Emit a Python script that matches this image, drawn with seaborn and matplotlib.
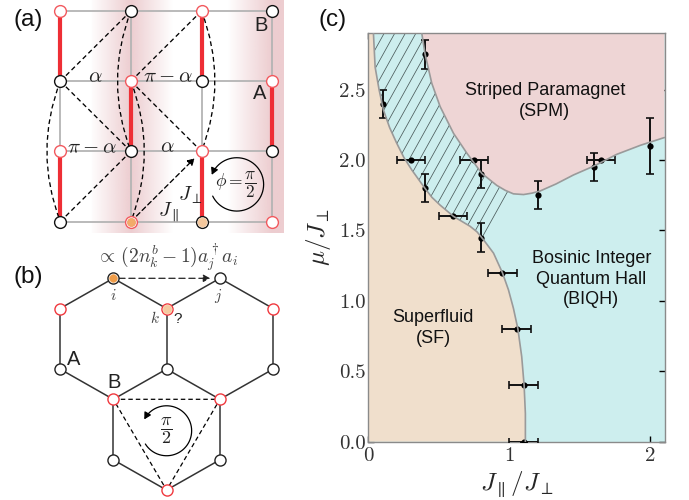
import numpy as np
import pandas as pd
import seaborn as sns
import matplotlib
matplotlib.use("Agg")
import matplotlib.pyplot as plt
from matplotlib.patches import FancyArrowPatch, PathPatch, Polygon
from matplotlib.path import Path

# phase diagram
sf_x = [0.035, 0.047, 0.075, 0.106, 0.15, 0.2, 0.25, 0.307, 0.40, 0.45, 0.508, 0.603, 0.72, 0.77, 0.816, 0.887, 0.95, 0.993, 1.028, 1.06, 1.087, 1.104, 1.113, 1.113]
sf_y = [2.9, 2.66, 2.5, 2.355, 2.23, 2.12, 2.02, 1.93, 1.8, 1.735, 1.68, 1.6, 1.53, 1.49, 1.434, 1.339, 1.2, 1.078, 0.948, 0.8, 0.604, 0.4, 0.2, 0.0]
spm_x = [0.378, 0.402, 0.449, 0.508, 0.603, 0.697, 0.804, 0.91, 0.97, 1.028, 1.1, 1.16, 1.217, 1.33, 1.454, 1.605, 1.76, 1.93, 2.1]
spm_y = [2.9, 2.75, 2.545, 2.38, 2.19, 2.05, 1.905, 1.82, 1.785, 1.76, 1.755, 1.765, 1.78, 1.83, 1.894, 1.96, 2.04, 2.105, 2.16]
hatch_edge_x = [0.84, 1.04]
hatch_edge_y = [1.41, 1.76]

pt_x = [0.1, 0.4, 0.3, 0.75, 0.8, 0.4, 0.6, 0.8, 0.95, 1.05, 1.1, 1.1, 1.2, 1.6, 1.65, 2.0]
pt_y = [2.4, 2.75, 2.0, 2.0, 1.9, 1.8, 1.6, 1.45, 1.2, 0.8, 0.4, 0.0, 1.75, 1.95, 2.0, 2.1]
pt_xerr = [0, 0, 0.1, 0.1, 0, 0, 0.1, 0, 0.1, 0.1, 0.1, 0.1, 0, 0, 0.1, 0]
pt_yerr = [0.1, 0.1, 0, 0, 0.1, 0.1, 0, 0.1, 0, 0, 0, 0, 0.1, 0.1, 0, 0.2]

x_ticks = [0, 1, 2]
y_ticks = [0.0, 0.5, 1.0, 1.5, 2.0, 2.5]

# square lattice of panel (a), (column, row)
a_red = [(0, 0), (2, 0), (1, 1), (3, 1), (0, 2), (2, 2), (1, 3), (3, 3)]
a_black = [(1, 0), (3, 0), (0, 1), (2, 1), (1, 2), (3, 2), (0, 3), (2, 3)]
a_bonds = [(0, 0, 1), (2, 0, 1), (1, 1, 2), (3, 1, 2), (0, 2, 3), (2, 2, 3)]
a_dashed = [((0, 1), (1, 0)), ((0, 1), (1, 2)), ((1, 1), (2, 0)), ((1, 1), (2, 2)), ((1, 2), (0, 3))]
a_curved = [((0, 1), (0, 3), -0.38), ((1, 0), (1, 2), -0.38), ((1, 1), (1, 3), 0.38), ((2, 0), (2, 2), 0.38)]

# honeycomb of panel (b), (column, height in bonds)
b_red = [(0, 0.5), (2, 0.5), (4, 0.5), (1, 2), (3, 2), (2, 3.5)]
b_black = [(1, 0), (3, 0), (0, 1.5), (2, 1.5), (4, 1.5), (1, 3), (3, 3)]
b_edges = [((0, 0.5), (1, 0)), ((1, 0), (2, 0.5)), ((2, 0.5), (3, 0)), ((3, 0), (4, 0.5)),
           ((0, 0.5), (0, 1.5)), ((2, 0.5), (2, 1.5)), ((4, 0.5), (4, 1.5)),
           ((0, 1.5), (1, 2)), ((1, 2), (2, 1.5)), ((2, 1.5), (3, 2)), ((3, 2), (4, 1.5)),
           ((1, 2), (1, 3)), ((3, 2), (3, 3)), ((1, 3), (2, 3.5)), ((3, 3), (2, 3.5))]
b_triangle = [(1, 2), (3, 2), (2, 3.5), (1, 2)]

W, H = 689, 500
RED = "#ee2e35"
GREY = "#b4b4b4"

sns.set_theme(style="ticks")
plt.rcParams["font.family"] = ["Liberation Sans", "DejaVu Sans"]
plt.rcParams["mathtext.fontset"] = "cm"
plt.rcParams["axes.unicode_minus"] = False

fig = plt.figure(figsize=(W / 100, H / 100), dpi=100)


def pixel_axes(x0, x1, y0, y1, ox, sx, oy, sy):
    # axes spanning a pixel box, with limits so that one lattice unit is sx by sy pixels
    ax = fig.add_axes([x0 / W, 1 - y1 / H, (x1 - x0) / W, (y1 - y0) / H])
    ax.set_xlim((x0 - ox) / sx, (x1 - ox) / sx)
    ax.set_ylim((y1 - oy) / sy, (y0 - oy) / sy)
    ax.axis("off")
    ax.patch.set_alpha(0)
    return ax


def nodes(ax, pts, edge, size=72, lw=1.0, face="white", z=5):
    df = pd.DataFrame(pts, columns=["x", "y"])
    sns.scatterplot(data=df, x="x", y="y", ax=ax, s=size, color=face, edgecolor=edge,
                    linewidth=lw, zorder=z, clip_on=False, legend=False)
    ax.set_xlabel("")
    ax.set_ylabel("")


def turn_arrow(ax, cx, cy, rx, ry, start, stop):
    t = np.radians(np.linspace(start, stop, 60))
    verts = np.column_stack([cx + rx * np.cos(t), cy - ry * np.sin(t)])
    ax.add_patch(FancyArrowPatch(path=Path(verts), arrowstyle="-|>,head_length=4,head_width=2.2",
                                 color="black", lw=0.9, zorder=6, shrinkA=0, shrinkB=0))


# ---- panel (a)
ax_a = pixel_axes(40, 284, 0, 233, 60.3, 70.6, 11.0, 70.2)
px = np.arange(40, 285)
fade = np.interp(px, [40, 91, 92, 131, 173, 228, 272, 284], [0, 0, 0.06, 1, 0, 0, 1, 1])
band = np.ones((1, px.size, 4))
band[..., :3] = matplotlib.colors.to_rgb("#edcdd0")
band[..., 3] = fade
lims = ax_a.get_xlim(), ax_a.get_ylim()
ax_a.imshow(band, extent=[lims[0][0], lims[0][1], lims[1][0], lims[1][1]], aspect="auto", zorder=0)
ax_a.set_xlim(lims[0])
ax_a.set_ylim(lims[1])

for i in range(4):
    ax_a.plot([i, i], [0, 3], color=GREY, lw=1.3, zorder=1)
    ax_a.plot([0, 3], [i, i], color=GREY, lw=1.3, zorder=1)
for col, r0, r1 in a_bonds:
    ax_a.plot([col, col], [r0, r1], color=RED, lw=3.0, solid_capstyle="butt", zorder=2)
for p, q in a_dashed:
    ax_a.plot([p[0], q[0]], [p[1], q[1]], color="black", lw=0.95, dashes=(3.6, 2.4), zorder=3)
for p, q, off in a_curved:
    ctrl = ((p[0] + q[0]) / 2 + off, (p[1] + q[1]) / 2)
    ax_a.add_patch(PathPatch(Path([p, ctrl, q], [Path.MOVETO, Path.CURVE3, Path.CURVE3]), fill=False,
                             edgecolor="black", lw=0.95, linestyle=(0, (3.6, 2.4)), zorder=3))
ax_a.add_patch(FancyArrowPatch((1, 3), (2, 2), arrowstyle="-|>,head_length=4,head_width=2.2", color="black",
                               lw=0.95, linestyle=(0, (3.6, 2.4)), shrinkA=0, shrinkB=7, zorder=4))
nodes(ax_a, a_red, "#f2595e")
nodes(ax_a, a_black, "#111111")
nodes(ax_a, [(1, 3)], "#ee9a60", size=34, lw=0.5, face="#f2ab6a", z=6)
nodes(ax_a, [(2, 3)], "#f4cda8", size=44, lw=0.5, face="#f4c79c", z=6)
turn_arrow(ax_a, 2.5, 2.47, 0.38, 0.38, 206, 519)
a_kw = dict(ha="center", va="center", color="#222222", fontsize=15)
ax_a.text(0.49, 0.94, r"$\alpha$", **a_kw)
ax_a.text(1.53, 0.94, r"$\pi-\alpha$", **a_kw)
ax_a.text(0.45, 1.95, r"$\pi-\alpha$", **a_kw)
ax_a.text(1.51, 1.94, r"$\alpha$", **a_kw)
ax_a.text(1.84, 2.62, r"$J_\perp$", ha="center", va="center", color="#222222", fontsize=14.5)
ax_a.text(1.53, 2.87, r"$J_\parallel$", ha="center", va="center", color="#222222", fontsize=14.5)
ax_a.text(2.49, 2.48, r"$\phi=\dfrac{\pi}{2}$", ha="center", va="center", color="#222222", fontsize=12.5, zorder=7)
ax_a.text(2.85, 0.2, "B", ha="center", va="center", color="#222222", fontsize=14.5)
ax_a.text(2.83, 1.18, "A", ha="center", va="center", color="#222222", fontsize=14.5)

# ---- panel (b)
ax_b = pixel_axes(40, 300, 240, 500, 60.0, 53.3, 278.3, 60.5)
for p, q in b_edges:
    ax_b.plot([p[0], q[0]], [p[1], q[1]], color="#333333", lw=1.1, zorder=1)
tri = np.array(b_triangle)
ax_b.plot(tri[:, 0], tri[:, 1], color="black", lw=0.9, dashes=(3.6, 2.4), zorder=2)
ax_b.add_patch(FancyArrowPatch((1, 0), (3, 0), arrowstyle="-|>,head_length=4,head_width=2.2", color="#222222",
                               lw=0.9, linestyle=(0, (5, 3)), shrinkA=4, shrinkB=7, zorder=3))
nodes(ax_b, b_red, "#f0383e", size=64)
nodes(ax_b, b_black, "#222222", size=64)
nodes(ax_b, [(1, 0)], "#f0a04e", size=30, lw=0.5, face="#ef9c48", z=6)
nodes(ax_b, [(2, 0.5)], "#f5cfa8", size=40, lw=0.5, face="#f4c9a0", z=6)
turn_arrow(ax_b, 2.0, 2.52, 0.47, 0.413, 212, 513)
ax_b.text(2.0, -0.34, r"$\propto\,(2n_k^b-1)a_j^\dagger a_i$", ha="center", va="center", color="#444444", fontsize=14)
ax_b.text(1.0, 0.28, r"$i$", ha="center", va="center", color="#444444", fontsize=11)
ax_b.text(2.97, 0.3, r"$j$", ha="center", va="center", color="#444444", fontsize=11)
ax_b.text(1.78, 0.66, r"$k$", ha="center", va="center", color="#444444", fontsize=11)
ax_b.text(2.21, 0.67, "?", ha="center", va="center", color="#222222", fontsize=11)
ax_b.text(0.25, 1.34, "A", ha="center", va="center", color="#222222", fontsize=14.5)
ax_b.text(1.01, 1.72, "B", ha="center", va="center", color="#222222", fontsize=14.5)
ax_b.text(2.0, 2.52, r"$\dfrac{\pi}{2}$", ha="center", va="center", color="#222222", fontsize=13, zorder=7)

# ---- panel (c)
ax = fig.add_axes([368.5 / W, 1 - 441.7 / H, 296 / W, 408.4 / H])
ax.set_facecolor("#cdeeee")
ax.set_xlim(0, 2.1)
ax.set_ylim(0, 2.9)

ax.fill(list(sf_x) + [0, 0], list(sf_y) + [0, 2.9], color="#f0dfcc", lw=0, zorder=1)
ax.fill(list(spm_x) + [2.1], list(spm_y) + [2.9], color="#eed5d5", lw=0, zorder=1)

# hatched wedge between the two boundaries
sf_a, sf_b = np.array(sf_x), np.array(sf_y)
spm_a, spm_b = np.array(spm_x), np.array(spm_y)
keep_sf = sf_b > hatch_edge_y[0]
keep_spm = spm_a <= hatch_edge_x[1]
wedge = np.vstack([
    np.column_stack([sf_a[keep_sf], sf_b[keep_sf]]),
    np.column_stack([hatch_edge_x, hatch_edge_y]),
    np.column_stack([spm_a[keep_spm], spm_b[keep_spm]])[::-1],
])
clip = Polygon(wedge, closed=True, transform=ax.transData, fc="none", ec="none")
ax.add_patch(clip)
for start in np.arange(-1.5, 2.2, 0.075):
    ln, = ax.plot([start, start + 3.0 / 1.8], [0, 3.0], color="#4a5a5a", lw=0.55, zorder=2)
    ln.set_clip_path(clip)

ax.errorbar(pt_x, pt_y, xerr=pt_xerr, yerr=pt_yerr, fmt="none", ecolor="#111111", elinewidth=1.4,
            capsize=2.6, capthick=1.2, zorder=3)
points = pd.DataFrame({"x": pt_x, "y": pt_y})
sns.scatterplot(data=points, x="x", y="y", ax=ax, color="black", s=20, linewidth=0, zorder=4, legend=False)

sf_line = pd.DataFrame({"x": sf_x, "y": sf_y})
spm_line = pd.DataFrame({"x": spm_x, "y": spm_y})
sns.lineplot(data=sf_line, x="x", y="y", ax=ax, sort=False, estimator=None, color="#9a9a9a", lw=1.2, zorder=5)
sns.lineplot(data=spm_line, x="x", y="y", ax=ax, sort=False, estimator=None, color="#9a9a9a", lw=1.2, zorder=5)

ax.set_xticks(x_ticks)
ax.set_yticks(y_ticks)
ax.set_xticklabels([str(v) for v in x_ticks], fontfamily="cmr10", fontsize=15, color="#333333")
ax.set_yticklabels([f"{v:.1f}" for v in y_ticks], fontfamily="cmr10", fontsize=15, color="#333333")
ax.tick_params(direction="in", top=True, right=True, length=4, width=1.0, color="black", pad=4)
ax.tick_params(axis="y", pad=2)
for sp in ax.spines.values():
    sp.set_color("#8a8a8a")
    sp.set_linewidth(1.0)
ax.set_xlabel(r"$J_\parallel/J_\perp$", fontsize=18, labelpad=3)
ax.set_ylabel(r"$\mu/J_\perp$", fontsize=18, labelpad=4)

lab = dict(ha="center", va="center", color="#111111", fontsize=13, linespacing=1.3)
ax.text(1.25, 2.42, "Striped Paramagnet\n(SPM)", **lab)
ax.text(1.58, 1.155, "Bosinic Integer\nQuantum Hall\n(BIQH)", **lab)
ax.text(0.46, 0.81, "Superfluid\n(SF)", **lab)

fig.text(28 / W, 1 - 20 / H, "(a)", ha="center", va="center", fontsize=17.5, color="#111111")
fig.text(28 / W, 1 - 277 / H, "(b)", ha="center", va="center", fontsize=17.5, color="#111111")
fig.text(333 / W, 1 - 20 / H, "(c)", ha="center", va="center", fontsize=17.5, color="#111111")

fig.savefig("out.png", dpi=100)
plt.close(fig)
